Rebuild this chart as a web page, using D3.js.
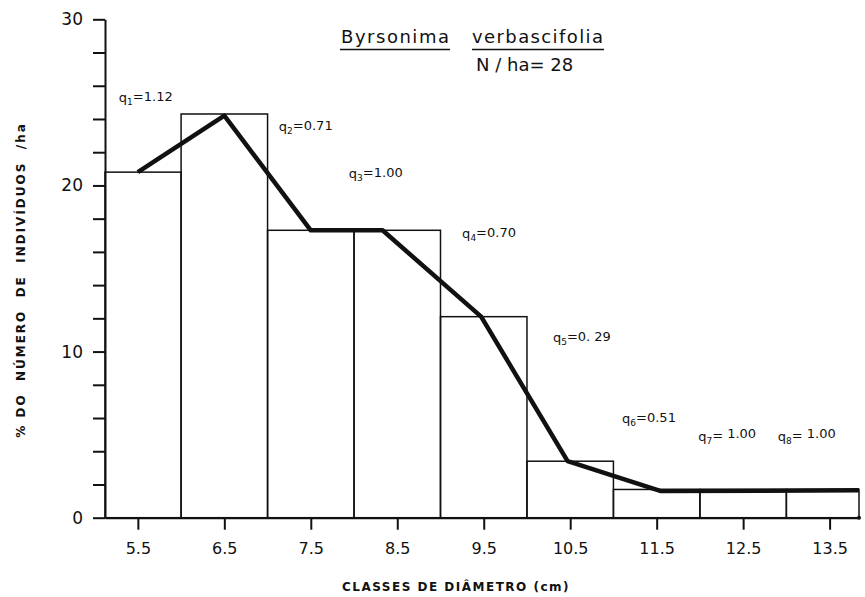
<!DOCTYPE html>
<html>
<head>
<meta charset="utf-8">
<script src="https://cdn.jsdelivr.net/npm/d3@7"></script>
<style>
  html, body { margin: 0; padding: 0; background: #fff; }
  svg { display: block; }
  text { font-family: "DejaVu Sans", "Noto Sans", sans-serif; fill: #111; }
</style>
</head>
<body>
<svg id="chart" width="865" height="597"></svg>
<script>
// Diameter classes (class midpoints, cm) and tick labels
const classMids = [5.5, 6.5, 7.5, 8.5, 9.5, 10.5, 11.5, 12.5, 13.5];
const classLabels = ["5.5", "6.5", "7.5", "8.5", "9.5", "10.5", "11.5", "12.5", "13.5"];

// % of number of individuals per ha in each class
const barValues = [20.8, 24.3, 17.3, 17.3, 12.1, 3.4, 1.7, 1.7, 1.7];

// Hand-smoothed curve through the histogram
const curveX = [5.5, 6.5, 7.5, 8.33, 9.47, 10.47, 11.55, 13.84];
const curveY = [20.8, 24.2, 17.3, 17.3, 12.1, 3.4, 1.6, 1.65];

// q ratios between successive classes
const qIndex = ["1", "2", "3", "4", "5", "6", "7", "8"];
const qValues = ["1.12", "0.71", "1.00", "0.70", "0. 29", "0.51", " 1.00", " 1.00"];

// y ticks
const yTicks = [0, 2, 4, 6, 8, 10, 12, 14, 16, 18, 20, 22, 24, 26, 28, 30];
const yTickLabels = { 0: "0", 10: "10", 20: "20", 30: "30" };

// Annotation anchors (in data units) for the q labels
const qAnchorX = [5.28, 7.13, 7.94, 9.25, 10.30, 11.10, 11.98, 12.90];
const qAnchorY = [25.0, 23.3, 20.45, 16.84, 10.57, 5.70, 4.6, 4.6];

const svg = d3.select("#chart");
const ink = "#111";

const xDomain = [5.12, 13.84];
const x = d3.scaleLinear().domain(xDomain).range([105, 859]);
const y = d3.scaleLinear().domain([0, 30]).range([517.7, 19.3]);

// Histogram bars (each class spans mid ± 0.5, clipped to the axis)
svg.append("g")
  .selectAll("rect")
  .data(classMids.map((m, i) => ({ m, v: barValues[i] })))
  .join("rect")
  .attr("x", d => x(Math.max(d.m - 0.5, xDomain[0])))
  .attr("width", d => x(Math.min(d.m + 0.5, xDomain[1])) - x(Math.max(d.m - 0.5, xDomain[0])))
  .attr("y", d => y(d.v))
  .attr("height", d => y(0) - y(d.v))
  .attr("fill", "none")
  .attr("stroke", ink)
  .attr("stroke-width", 1.5);

// Y axis
const yAxis = d3.axisLeft(y)
  .tickValues(yTicks)
  .tickSize(12)
  .tickSizeOuter(0)
  .tickPadding(10)
  .tickFormat(d => yTickLabels[d] || "");
const gy = svg.append("g").attr("transform", `translate(${x(xDomain[0])},0)`).call(yAxis);
gy.select(".domain").attr("stroke", ink).attr("stroke-width", 2);
gy.selectAll(".tick line").attr("stroke", ink).attr("stroke-width", 2);
gy.selectAll(".tick text").style("font-size", "17px").attr("fill", ink);

// X axis
const xAxis = d3.axisBottom(x)
  .tickValues(classMids)
  .tickSize(12)
  .tickSizeOuter(0)
  .tickPadding(13)
  .tickFormat((d, i) => classLabels[i]);
const gx = svg.append("g").attr("transform", `translate(0,${y(0)})`).call(xAxis);
gx.select(".domain").attr("stroke", ink).attr("stroke-width", 2);
gx.selectAll(".tick line").attr("stroke", ink).attr("stroke-width", 2);
gx.selectAll(".tick text").style("font-size", "16px").attr("fill", ink);

// small end mark at the right of the x axis
svg.append("circle")
  .attr("cx", x(xDomain[1])).attr("cy", y(0)).attr("r", 2).attr("fill", ink);

// Smoothed curve
const line = d3.line().x(d => x(d[0])).y(d => y(d[1]));
svg.append("path")
  .datum(curveX.map((v, i) => [v, curveY[i]]))
  .attr("d", line)
  .attr("fill", "none")
  .attr("stroke", ink)
  .attr("stroke-width", 4.5)
  .attr("stroke-linejoin", "round");

// q labels
const qg = svg.append("g");
qIndex.forEach((k, i) => {
  const t = qg.append("text")
    .attr("x", x(qAnchorX[i]))
    .attr("y", y(qAnchorY[i]))
    .style("font-size", "13px");
  t.append("tspan").text("q");
  t.append("tspan").attr("dy", 3).style("font-size", "9px").text(k);
  t.append("tspan").attr("dy", -4).text("=");
  t.append("tspan").attr("dy", i >= 6 ? -2 : 0).style("white-space", "pre").text(qValues[i]);
});

// Title block
const title = svg.append("g");
title.append("text").attr("x", 341).attr("y", 43).style("font-size", "18px")
  .attr("textLength", 108).text("Byrsonima");
title.append("text").attr("x", 472).attr("y", 43).style("font-size", "18px")
  .attr("textLength", 131).text("verbascifolia");
title.append("line").attr("x1", 340).attr("x2", 450).attr("y1", 49.5).attr("y2", 49.5)
  .attr("stroke", ink).attr("stroke-width", 1.5);
title.append("line").attr("x1", 472).attr("x2", 604).attr("y1", 49.5).attr("y2", 49.5)
  .attr("stroke", ink).attr("stroke-width", 1.5);
title.append("text").attr("x", 476).attr("y", 71).style("font-size", "18px")
  .style("white-space", "pre").text("N / ha= 28");

// Axis titles
svg.append("text")
  .attr("x", 456).attr("y", 591)
  .attr("text-anchor", "middle")
  .style("font-size", "12px").style("font-weight", "bold").style("letter-spacing", "1.5px")
  .text("CLASSES DE DIÂMETRO  (cm)");

svg.append("text")
  .attr("transform", "translate(25,280) rotate(-90)")
  .attr("text-anchor", "middle")
  .style("font-size", "12px").style("font-weight", "bold").style("letter-spacing", "2px")
  .style("white-space", "pre")
  .text("% DO  NÚMERO  DE  INDIVÍDUOS  /ha");
</script>
</body>
</html>
